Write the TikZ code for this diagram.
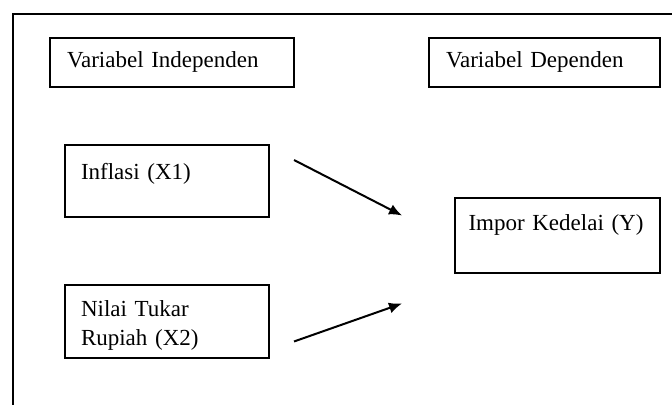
\documentclass[tikz,border=0pt]{standalone}
\usepackage{fontspec}
\setmainfont{Liberation Serif}
\usepackage{tikz}
\usetikzlibrary{arrows.meta, positioning, calc}

\begin{document}
\begin{tikzpicture}[font=\fontsize{11.5}{14.5}\selectfont,
    headbox/.style={rectangle, draw=black, line width=1pt, inner ysep=0pt, inner xsep=8.5pt,
      align=left, text height=15pt, text depth=9.5pt},
    varbox/.style={rectangle, draw=black, line width=1pt, inner ysep=0pt, inner xsep=8pt,
      text width=86pt, align=left}]

    \useasboundingbox (0,0) rectangle (336pt,-202.5pt);
    \draw [line width=1pt] (6.5pt,-210pt) -- (6.5pt,-7pt) -- (340pt,-7pt);

    \node (indep) [headbox, text width=105pt] at (86pt,-31.25pt) {Variabel Independen};
    \node (dep) [headbox, text width=98.5pt, right=66.5pt of indep] {Variabel Dependen};

    \node (infl) [varbox, text height=17.5pt, text depth=18.5pt,
      below=28pt of indep.south west, anchor=north west, xshift=7.5pt] {Inflasi (X1)};
    \node (nilai) [varbox, text height=15.5pt, text depth=21pt, below=33pt of infl] {Nilai Tukar\\Rupiah (X2)};
    \node (impor) [varbox, text width=89pt, inner xsep=6.75pt, text height=16pt, text depth=21.5pt,
      below=54.5pt of dep.south east, anchor=north east] {Impor Kedelai (Y)};

    \coordinate (a1) at ($(infl.north east)+(12pt,-8pt)$);
    \coordinate (b1) at ($(impor.west)+(-26pt,10pt)$);
    \coordinate (a2) at ($(nilai.east)+(12pt,-10pt)$);
    \coordinate (b2) at ($(impor.west)+(-26pt,-34pt)$);

    \draw [-{Latex[length=6.5pt, width=5.5pt]}, line width=1pt] (a1) -- (b1);
    \draw [-{Latex[length=6.5pt, width=5.5pt]}, line width=1pt] (a2) -- (b2);
\end{tikzpicture}
\end{document}
